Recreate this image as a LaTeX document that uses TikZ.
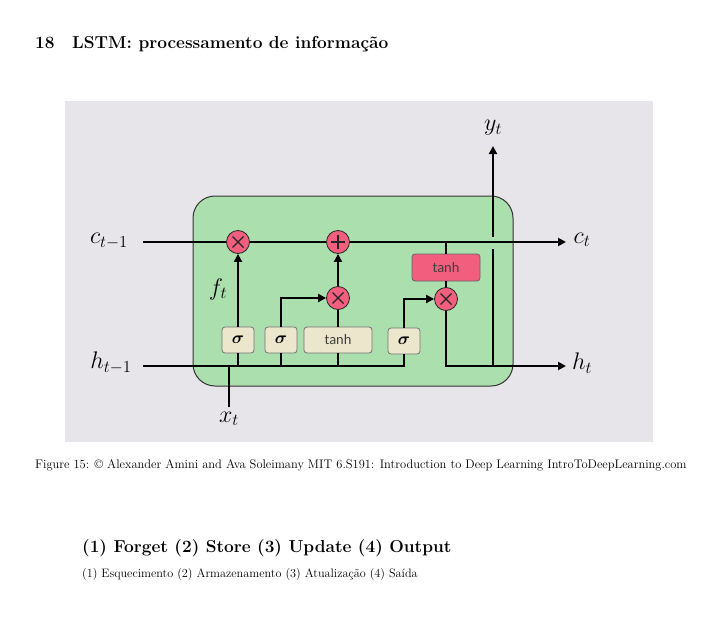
\RequirePackage{fix-cm}
\documentclass[tikz,border=0pt]{standalone}
\usepackage{fontspec}
\usepackage{bm}
\newfontfamily\carlito{Carlito}
\usetikzlibrary{arrows.meta}
\definecolor{bggray}{RGB}{231,229,234}
\definecolor{cellgreen}{RGB}{172,223,174}
\definecolor{gatepink}{RGB}{242,94,126}
\definecolor{boxbeige}{RGB}{236,230,204}
\tikzset{
  gatec/.style={circle, draw=black!85, fill=gatepink, minimum size=23pt, inner sep=0pt, line width=0.8pt},
  multg/.style={gatec, path picture={\draw[line width=1.2pt] (path picture bounding box.center) ++(-5.5pt,-5.5pt) -- ++(11pt,11pt) (path picture bounding box.center) ++(-5.5pt,5.5pt) -- ++(11pt,-11pt);}},
  plusg/.style={gatec, path picture={\draw[line width=1.4pt] (path picture bounding box.center) ++(-7pt,0pt) -- ++(14pt,0pt) (path picture bounding box.center) ++(0pt,-7pt) -- ++(0pt,14pt);}},
  sbox/.style={draw=black!55, fill=boxbeige, rounded corners=3pt, minimum width=32pt, minimum height=26pt, inner sep=0pt, line width=0.8pt, font=\fontsize{17}{19}\selectfont},
  tbox/.style={sbox, minimum width=68pt, font=\carlito\fontsize{14.5}{16}\selectfont\color{black!75}},
  rbox/.style={draw=black!60, fill=gatepink, rounded corners=3pt, minimum width=68pt, minimum height=27pt, inner sep=0pt, line width=0.8pt, font=\carlito\fontsize{14.5}{16}\selectfont\color{black!75}},
  wire/.style={line width=2.1pt},
  arr/.style={wire, -{Triangle[length=8pt,width=8pt]}},
  lbl/.style={inner sep=0pt, font=\fontsize{24}{28}\selectfont},
  txt/.style={anchor=base west, inner sep=0pt}
}
\begin{document}
\begin{tikzpicture}[x=1pt,y=-1pt]
\useasboundingbox[fill=white] (0,0) rectangle (707,618);
% page texts
\node[txt, font=\fontsize{17.28}{20}\selectfont\bfseries] (secnum) at (35,49) {18};
\node[txt, font=\fontsize{17.28}{20}\selectfont\bfseries] (sectitle) at (72,49) {LSTM: processamento de informação};
\node[txt, font=\fontsize{12.45}{14}\selectfont] (caption) at (35,468) {Figure 15: \textcopyright{} Alexander Amini and Ava Soleimany MIT 6.S191: Introduction to Deep Learning IntroToDeepLearning.com};
\node[txt, font=\fontsize{17.28}{20}\selectfont\bfseries] (steps) at (82,552) {(1) Forget (2) Store (3) Update (4) Output};
\node[txt, font=\fontsize{12.2}{14}\selectfont] (passos) at (82,577) {(1) Esquecimento (2) Armazenamento (3) Atualização (4) Saída};
% figure background
\node[fill=bggray, minimum width=588pt, minimum height=341pt, inner sep=0pt] (bg) at (359,271.5) {};
\node[draw=black!80, fill=cellgreen, rounded corners=22pt, line width=1pt, minimum width=320pt, minimum height=190pt, inner sep=0pt] (cell) at (353,291) {};
% gates
\node[multg] (fg) at (238,242) {};
\node[plusg] (pg) at (338,242) {};
\node[multg] (mg) at (338,298) {};
\node[multg] (og) at (446,299) {};
\node[rbox] (th2) at (446,267.5) {tanh};
\node[sbox] (s1) at (238,340) {$\bm{\sigma}$};
\node[sbox] (s2) at (281,340) {$\bm{\sigma}$};
\node[tbox] (th1) at (338,340) {tanh};
\node[sbox] (s4) at (404,341) {$\bm{\sigma}$};
% labels
\node[lbl] (lc0) at (109,241) {$c_{t-1}$};
\node[lbl] (lc1) at (582,240) {$c_{t}$};
\node[lbl] (lh0) at (111,363) {$h_{t-1}$};
\node[lbl] (lh1) at (582,363) {$h_{t}$};
\node[lbl] (ly) at (493,128) {$y_{t}$};
\node[lbl] (lx) at (229,419) {$x_{t}$};
\node[lbl] (lf) at (218,289) {$f_{t}$};
% coordinates
\coordinate (cin) at (143,242);
\coordinate (cout) at (566,242);
\coordinate (hin) at (143,366);
\coordinate (hout) at (566,366);
\coordinate (cb) at (446,242);
\coordinate (hb) at (404,366);
\coordinate (yb) at (493,366);
\coordinate (ygapl) at (493,249);
\coordinate (ygapu) at (493,237);
\coordinate (yt) at (493,146);
\coordinate (xt) at (229,407);
% cell state line
\draw[wire] (cin) -- (fg.west);
\draw[wire] (fg.east) -- (pg.west);
\draw[arr] (pg.east) -- (cout);
\draw[wire] (cb) -- (th2.north);
\draw[wire] (th2.south) -- (og.north);
% hidden input line
\draw[wire] (hin) -- (hb) -- (s4.south);
\draw[wire] (xt) -- (xt |- hin);
\draw[wire] (s1.south) -- (s1.south |- hin);
\draw[wire] (s2.south) -- (s2.south |- hin);
\draw[wire] (th1.south) -- (th1.south |- hin);
% gate connections
\draw[arr] (s1.north) -- (fg.south);
\draw[arr] (s2.north) |- (mg.west);
\draw[wire] (th1.north) -- (mg.south);
\draw[arr] (mg.north) -- (pg.south);
\draw[arr] (s4.north) |- (og.west);
% output
\draw[arr] (og.south) |- (hout);
\draw[wire] (yb) -- (ygapl);
\draw[arr] (ygapu) -- (yt);
\end{tikzpicture}
\end{document}
